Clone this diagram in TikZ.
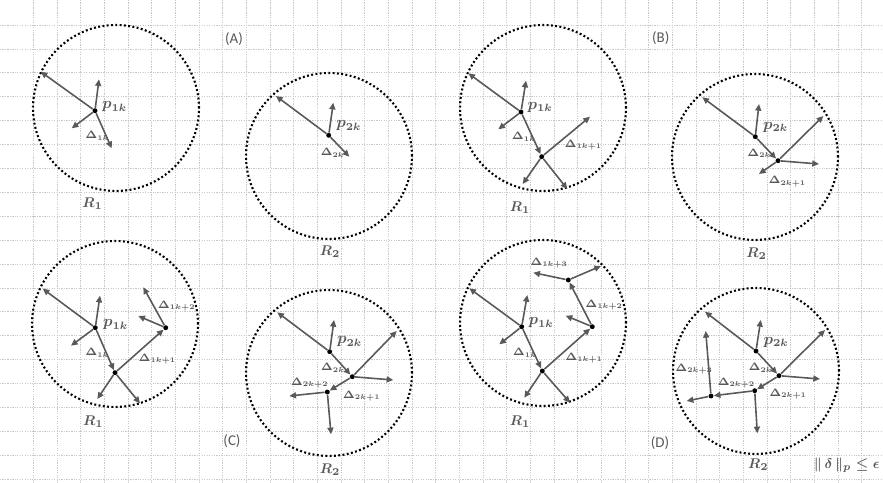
\documentclass[tikz,border=0pt]{standalone}
\usepackage{fix-cm}
\usepackage[no-math]{fontspec}
\newfontfamily\panelfont{Carlito}
\usetikzlibrary{arrows.meta}
\DeclareMathSizes{6}{6}{4}{3.5}
\definecolor{inkgrey}{HTML}{595959}
\definecolor{gridgrey}{HTML}{C8C8C8}

\begin{document}
\begin{tikzpicture}[x=0.02cm,y=-0.02cm,
  gridline/.style={draw=gridgrey,line width=0.45pt,dash pattern=on 0.7pt off 0.7pt},
  region/.style={circle,draw=black,line width=1.2pt,dash pattern=on 1.1pt off 1.35pt,minimum size=3.32cm,inner sep=0pt},
  pnt/.style={circle,fill=black,inner sep=0pt,minimum size=2.8pt},
  vec/.style={draw=inkgrey,line width=0.9pt,-{Triangle[length=3.8pt,width=3.4pt]}},
  plbl/.style={text=inkgrey,inner sep=0pt,anchor=west,font=\fontsize{9}{10}\selectfont\boldmath},
  dlbl/.style={text=inkgrey,inner sep=0pt,anchor=west,xshift=-1pt,font=\fontsize{6}{7}\selectfont\boldmath},
  rlbl/.style={text=inkgrey,inner sep=0pt,font=\fontsize{8}{9}\selectfont\boldmath},
  panel/.style={text=inkgrey,inner sep=0pt,font=\panelfont\fontsize{8.5}{10}\selectfont}]
\useasboundingbox (0,0) rectangle (883,483);
\fill[white] (0,0) rectangle (883,483);
% background grid
\foreach \i in {0,...,35} \draw[gridline] ({33.3+23.67*\i},0) -- ({33.3+23.67*\i},483);
\foreach \j in {0,...,19} \draw[gridline] (0,{25+23.9*\j}) -- (883,{25+23.9*\j});

% (A)
\node[region] (A1) at (116,108) {};
\node[region] (A2) at (329,156) {};
\node[panel] (tagA) at (234,39) {(A)};
\node[pnt] (a1p) at (95,110.7) {};
\path (40.7,71.7) coordinate (a1e1) (99,79.3) coordinate (a1e2)
      (71.7,128.3) coordinate (a1e3) (111.7,148.3) coordinate (a1e4);
\foreach \e in {a1e1,a1e2,a1e3,a1e4} \draw[vec] (a1p) -- (\e);
\node[plbl] (la1p) at (101.7,106.7) {$p_{1k}$};
\node[dlbl] (la1d) at (86.7,136) {$\Delta_{1k}$};
\node[rlbl] (lA1) at (92.7,204) {$R_1$};
\node[pnt] (a2p) at (328.7,135.3) {};
\path (276,96) coordinate (a2e1) (333.3,102.7) coordinate (a2e2)
      (349.3,156.7) coordinate (a2e3);
\foreach \e in {a2e1,a2e2,a2e3} \draw[vec] (a2p) -- (\e);
\node[plbl] (la2p) at (336,126) {$p_{2k}$};
\node[dlbl] (la2d) at (322,152.7) {$\Delta_{2k}$};
\node[rlbl] (lA2) at (330,251.7) {$R_2$};

% (B)
\node[region] (B1) at (543,108) {};
\node[region] (B2) at (755,157) {};
\node[panel] (tagB) at (660.7,38.3) {(B)};
\node[pnt] (b1p) at (521,112) {};
\node[pnt] (b1q) at (541.7,156.7) {};
\path (468.3,73.3) coordinate (b1e1) (526,80.7) coordinate (b1e2)
      (498.3,129.3) coordinate (b1e3) (590,116.7) coordinate (b1e4)
      (522.7,184) coordinate (b1e5) (567.3,189) coordinate (b1e6);
\foreach \e in {b1e1,b1e2,b1e3} \draw[vec] (b1p) -- (\e);
\draw[vec] (b1p) -- (b1q);
\foreach \e in {b1e4,b1e5,b1e6} \draw[vec] (b1q) -- (\e);
\node[plbl] (lb1p) at (527.3,107.3) {$p_{1k}$};
\node[dlbl] (lb1d) at (513.3,136.7) {$\Delta_{1k}$};
\node[dlbl] (lb1e) at (566,145) {$\Delta_{1k+1}$};
\node[rlbl] (lB1) at (520,207.3) {$R_1$};
\node[pnt] (b2p) at (755.3,136.7) {};
\node[pnt] (b2q) at (778,160.7) {};
\path (702.3,97.3) coordinate (b2e1) (759,104) coordinate (b2e2)
      (823.3,116) coordinate (b2e3) (819,164) coordinate (b2e4)
      (759,174) coordinate (b2e5);
\foreach \e in {b2e1,b2e2} \draw[vec] (b2p) -- (\e);
\draw[vec] (b2p) -- (b2q);
\foreach \e in {b2e3,b2e4,b2e5} \draw[vec] (b2q) -- (\e);
\node[plbl] (lb2p) at (762.7,127.3) {$p_{2k}$};
\node[dlbl] (lb2d) at (748.7,153.3) {$\Delta_{2k}$};
\node[dlbl] (lb2e) at (770,181.7) {$\Delta_{2k+1}$};
\node[rlbl] (lB2) at (756.7,253.3) {$R_2$};

% (C)
\node[region] (C1) at (115,324) {};
\node[region] (C2) at (329,373) {};
\node[panel] (tagC) at (232,441) {(C)};
\node[pnt] (c1p) at (95.3,327.7) {};
\node[pnt] (c1q) at (115,372.7) {};
\node[pnt] (c1r) at (165.7,327.7) {};
\path (42.7,288.7) coordinate (c1e1) (100,295.7) coordinate (c1e2)
      (71,345.7) coordinate (c1e3) (97.3,399) coordinate (c1e4)
      (140,403.3) coordinate (c1e5) (143.3,287.3) coordinate (c1e6)
      (138.3,316) coordinate (c1e7);
\foreach \e in {c1e1,c1e2,c1e3} \draw[vec] (c1p) -- (\e);
\draw[vec] (c1p) -- (c1q);
\foreach \e in {c1e4,c1e5} \draw[vec] (c1q) -- (\e);
\draw[vec] (c1q) -- (c1r);
\foreach \e in {c1e6,c1e7} \draw[vec] (c1r) -- (\e);
\node[plbl] (lc1p) at (102.7,325) {$p_{1k}$};
\node[dlbl] (lc1d) at (86.7,352.7) {$\Delta_{1k}$};
\node[dlbl] (lc1e) at (140,359.3) {$\Delta_{1k+1}$};
\node[dlbl] (lc1f) at (159.3,306) {$\Delta_{1k+2}$};
\node[rlbl] (lC1) at (93.3,421.7) {$R_1$};
\node[pnt] (c2p) at (329.7,351.7) {};
\node[pnt] (c2q) at (352.3,376.7) {};
\node[pnt] (c2r) at (327.3,392) {};
\path (277.3,312.3) coordinate (c2e1) (334,320) coordinate (c2e2)
      (396.7,331) coordinate (c2e3) (393.3,380) coordinate (c2e4)
      (289.3,396) coordinate (c2e5) (331,434.3) coordinate (c2e6);
\foreach \e in {c2e1,c2e2} \draw[vec] (c2p) -- (\e);
\draw[vec] (c2p) -- (c2q);
\foreach \e in {c2e3,c2e4} \draw[vec] (c2q) -- (\e);
\draw[vec] (c2q) -- (c2r);
\foreach \e in {c2e5,c2e6} \draw[vec] (c2r) -- (\e);
\node[plbl] (lc2p) at (336.7,341.7) {$p_{2k}$};
\node[dlbl] (lc2d) at (322.3,367.7) {$\Delta_{2k}$};
\node[dlbl] (lc2e) at (344.3,396) {$\Delta_{2k+1}$};
\node[dlbl] (lc2f) at (292.3,383.3) {$\Delta_{2k+2}$};
\node[rlbl] (lC2) at (330,470) {$R_2$};

% (D)
\node[region] (D1) at (543,323) {};
\node[region] (D2) at (756,371) {};
\node[panel] (tagD) at (660,443.3) {(D)};
\node[pnt] (d1p) at (521.7,326.7) {};
\node[pnt] (d1q) at (542.3,371) {};
\node[pnt] (d1r) at (592.3,326.7) {};
\node[pnt] (d1s) at (568.3,280) {};
\path (469.3,288.3) coordinate (d1e1) (527.3,295) coordinate (d1e2)
      (499.3,344.3) coordinate (d1e3) (524.3,397.7) coordinate (d1e4)
      (570,402.7) coordinate (d1e5) (565.7,315.7) coordinate (d1e6)
      (533.3,272.7) coordinate (d1e7) (601,266) coordinate (d1e8);
\foreach \e in {d1e1,d1e2,d1e3} \draw[vec] (d1p) -- (\e);
\draw[vec] (d1p) -- (d1q);
\foreach \e in {d1e4,d1e5} \draw[vec] (d1q) -- (\e);
\draw[vec] (d1q) -- (d1r);
\draw[vec] (d1r) -- (d1e6);
\draw[vec] (d1r) -- (d1s);
\foreach \e in {d1e7,d1e8} \draw[vec] (d1s) -- (\e);
\node[plbl] (ld1p) at (528.3,322.7) {$p_{1k}$};
\node[dlbl] (ld1d) at (514.3,352.7) {$\Delta_{1k}$};
\node[dlbl] (ld1e) at (566.7,358.3) {$\Delta_{1k+1}$};
\node[dlbl] (ld1f) at (586.7,305) {$\Delta_{1k+2}$};
\node[dlbl] (ld1g) at (531.7,263.3) {$\Delta_{1k+3}$};
\node[rlbl] (lD1) at (520,421.7) {$R_1$};
\node[pnt] (d2p) at (756,351) {};
\node[pnt] (d2q) at (779,375.7) {};
\node[pnt] (d2r) at (754.7,390.7) {};
\node[pnt] (d2s) at (711,396) {};
\path (705,311.7) coordinate (d2e1) (760.7,320) coordinate (d2e2)
      (825,330) coordinate (d2e3) (820,379) coordinate (d2e4)
      (757.3,433.3) coordinate (d2e5) (705.7,331) coordinate (d2e6)
      (686.7,401) coordinate (d2e7);
\foreach \e in {d2e1,d2e2} \draw[vec] (d2p) -- (\e);
\draw[vec] (d2p) -- (d2q);
\foreach \e in {d2e3,d2e4} \draw[vec] (d2q) -- (\e);
\draw[vec] (d2q) -- (d2r);
\draw[vec] (d2r) -- (d2e5);
\draw[vec] (d2r) -- (d2s);
\foreach \e in {d2e6,d2e7} \draw[vec] (d2s) -- (\e);
\node[plbl] (ld2p) at (763.3,342.3) {$p_{2k}$};
\node[dlbl] (ld2d) at (750,367.7) {$\Delta_{2k}$};
\node[dlbl] (ld2e) at (770.7,394.3) {$\Delta_{2k+1}$};
\node[dlbl] (ld2f) at (719,383.3) {$\Delta_{2k+2}$};
\node[dlbl] (ld2g) at (676.7,369.3) {$\Delta_{2k+3}$};
\node[rlbl] (lD2) at (758.3,465) {$R_2$};
\node[rlbl,anchor=east] (bound) at (880,465) {$\|\,\delta\,\|_p\le\epsilon$};
\end{tikzpicture}
\end{document}
